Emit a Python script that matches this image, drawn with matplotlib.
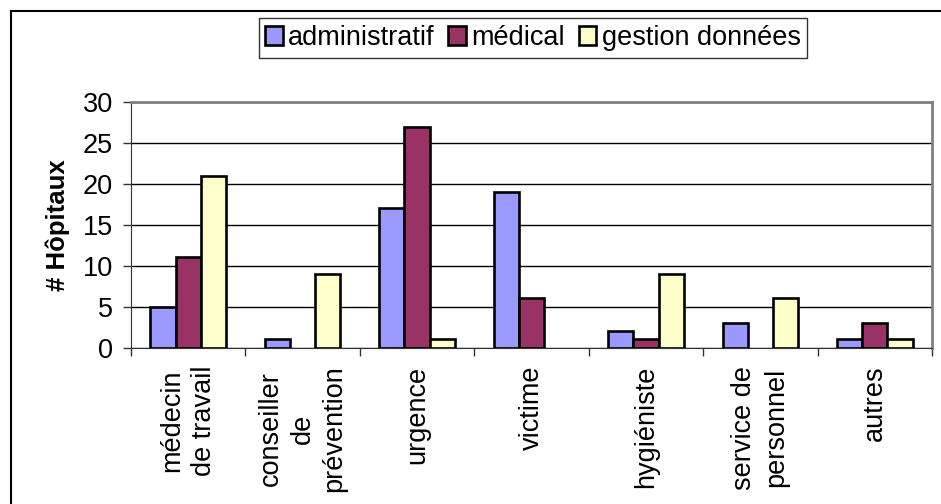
import numpy as np
from matplotlib import pyplot as plt
from matplotlib.lines import Line2D

plt.rcParams['font.family'] = ['Liberation Sans', 'DejaVu Sans']

# data
categories = ['médecin\nde travail', 'conseiller\nde\nprévention', 'urgence', 'victime',
              'hygiéniste', 'service de\npersonnel', 'autres']
series_names = ['administratif', 'médical', 'gestion données']
administratif = [5, 1, 17, 19, 2, 3, 1]
medical = [11, 0, 27, 6, 1, 0, 3]
gestion = [21, 9, 1, 0, 9, 6, 1]
yticks = [0, 5, 10, 15, 20, 25, 30]

colors = ['#9999FF', '#993366', '#FFFFCC']
FS = 19.5

W, H = 941, 504
fig = plt.figure(figsize=(W/100, H/100), dpi=100)
ax = fig.add_axes([131/W, 1-347.5/H, (932-131)/W, (347.5-102)/H])

x = np.arange(len(categories))
bw = 0.22
for i, vals in enumerate([administratif, medical, gestion]):
    vals = np.array(vals)
    keep = vals > 0
    ax.bar(x[keep] + (i-1)*bw, vals[keep], width=bw, color=colors[i],
           edgecolor='black', linewidth=1.9, zorder=3, label=series_names[i])

ax.set_xlim(-0.5, len(categories)-0.5)
ax.set_ylim(0, 30)
ax.set_yticks(yticks)
ax.yaxis.grid(True, color='black', linewidth=1, zorder=0)
ax.tick_params(axis='y', labelsize=FS, length=6, width=1, pad=7, color='#333333')

# category labels between boundary ticks
ax.set_xticks(np.arange(len(categories)+1) - 0.5)
ax.set_xticklabels([])
ax.tick_params(axis='x', length=6, width=1, color='#333333')
ax.set_xticks(x, minor=True)
ax.set_xticklabels(categories, minor=True, rotation=90, fontsize=FS,
                   ha='center', va='top', multialignment='center', linespacing=1.3)
ax.tick_params(axis='x', which='minor', length=0, pad=13)

ax.set_ylabel('# Hôpitaux', fontsize=18.5, fontweight='bold', labelpad=9)

for s in ['top', 'right']:
    ax.spines[s].set_color('#808080')
    ax.spines[s].set_linewidth(2)
ax.spines['left'].set_color('#333333')
ax.spines['bottom'].set_color('#333333')

leg = fig.legend(loc='center', bbox_to_anchor=(533/W, 1-38/H), ncol=3, fontsize=FS,
                 frameon=True, fancybox=False, edgecolor='black', handlelength=0.65,
                 handleheight=0.65, handletextpad=0.2, columnspacing=0.5,
                 borderpad=0.25, borderaxespad=0)
leg.get_frame().set_linewidth(1)

# outer chart border
fig.add_artist(Line2D([10.5/W, 10.5/W], [0, 1-10.5/H], color='black', linewidth=1.5,
                      transform=fig.transFigure))
fig.add_artist(Line2D([10.5/W, 1], [1-10.5/H, 1-10.5/H], color='black', linewidth=1.5,
                      transform=fig.transFigure))

fig.savefig('out.png', dpi=100)
